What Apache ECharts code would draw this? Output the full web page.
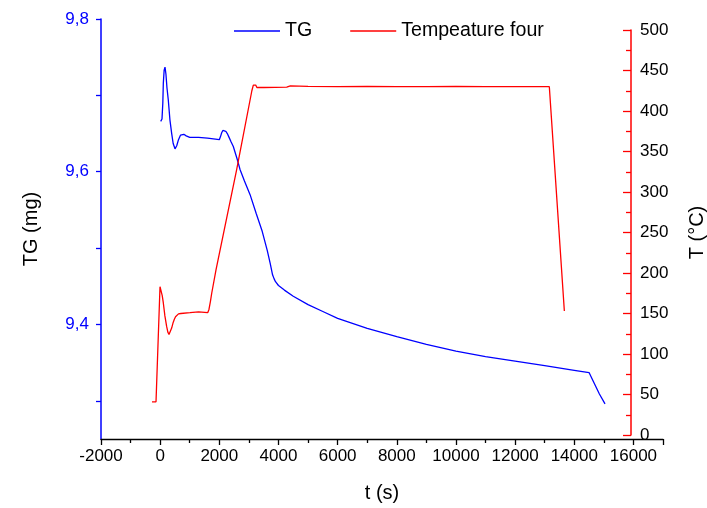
<!DOCTYPE html>
<html>
<head>
<meta charset="utf-8">
<script src="https://cdn.jsdelivr.net/npm/echarts@6/dist/echarts.min.js"></script>
<style>
html,body{margin:0;padding:0;background:#fff;}
#chart{width:707px;height:508px;}
</style>
</head>
<body>
<div id="chart"></div>
<script>
// ---- data ----
var seriesNames = ['TG', 'Tempeature four'];
var tgTime = [18, 62, 90, 107, 135, 164, 195, 230, 275, 330, 390, 440, 502, 560, 620, 690, 749, 800, 880, 1000, 1300, 1600, 2000, 2040, 2080, 2120, 2169, 2220, 2270, 2330, 2400, 2473, 2600, 2700, 2850, 3040, 3250, 3450, 3620, 3720, 3800, 3850, 3900, 4000, 4200, 4500, 5000, 5500, 6000, 7000, 8000, 9000, 10000, 11000, 12000, 13000, 14000, 14500, 14650, 14850, 15040];
var tgMass = [9.666, 9.669, 9.690, 9.716, 9.733, 9.737, 9.728, 9.710, 9.694, 9.668, 9.650, 9.637, 9.630, 9.634, 9.642, 9.648, 9.650, 9.649, 9.647, 9.645, 9.645, 9.644, 9.642, 9.646, 9.651, 9.654, 9.655, 9.653, 9.650, 9.645, 9.639, 9.633, 9.617, 9.603, 9.588, 9.570, 9.545, 9.522, 9.497, 9.480, 9.465, 9.460, 9.456, 9.451, 9.445, 9.437, 9.426, 9.417, 9.408, 9.395, 9.384, 9.374, 9.365, 9.358, 9.352, 9.346, 9.340, 9.337, 9.325, 9.309, 9.296];
var tempTime = [-276, -140, -5, 30, 70, 107, 160, 219, 260, 299, 340, 389, 440, 480, 520, 558, 620, 700, 1009, 1300, 1607, 1650, 1700, 1743, 1888, 2588, 3100, 3150, 3183, 3230, 3270, 3318, 3500, 4279, 4400, 5000, 6000, 7000, 8000, 9000, 10000, 11000, 12000, 13000, 13157, 13665];
var tempValue = [41, 41, 183, 181, 172, 163, 147, 134, 127, 124, 126, 132, 139, 143, 146, 148, 149.5, 150, 151, 152, 151, 155, 165, 175, 204, 328, 425, 432, 434, 432, 429, 428, 429, 429.5, 431, 430.5, 430, 430.5, 430, 430, 430.5, 430, 430, 430, 430, 153];
var xTicks = {min: -2000, max: 17000, interval: 2000};
var tgTickValues = [9.3, 9.4, 9.5, 9.6, 9.7, 9.8];
var tgLabelValues = [9.4, 9.6, 9.8];
var tempTicks = {min: 0, max: 500, interval: 50};

// ---- layout ----
var plotLeft = 101, plotRight = 663, plotTop = 19, plotBottom = 439;
var layer2Right = 631, layer2Top = 30, layer2Bottom = 435;
var W = 707, H = 508;
var xMax2 = xTicks.min + (xTicks.max - xTicks.min) * (layer2Right - plotLeft) / (plotRight - plotLeft);

function zip(a, b) { return a.map(function (v, i) { return [v, b[i]]; }); }

var fontFam = 'Liberation Sans, Arial, sans-serif';
var chart = echarts.init(document.getElementById('chart'));
chart.setOption({
  animation: false,
  backgroundColor: '#fff',
  textStyle: {fontFamily: fontFam},
  legend: {
    top: 16, left: 229, itemWidth: 46, itemHeight: 1.5, itemGap: 38, icon: 'rect',
    textStyle: {fontSize: 19.6, color: '#000', fontFamily: fontFam},
    data: seriesNames
  },
  grid: [
    {left: plotLeft, right: W - plotRight, top: plotTop, bottom: H - plotBottom, containLabel: false, outerBoundsMode: 'none'},
    {left: plotLeft, right: W - layer2Right, top: layer2Top, bottom: H - layer2Bottom, containLabel: false, outerBoundsMode: 'none'}
  ],
  xAxis: [
    {
      type: 'value', gridIndex: 0, min: xTicks.min, max: xTicks.max, interval: xTicks.interval,
      name: 't (s)', nameLocation: 'middle', nameGap: 44,
      nameTextStyle: {fontSize: 20, color: '#000', fontFamily: fontFam},
      axisLine: {onZero: false, lineStyle: {color: '#000', width: 1.3}},
      axisTick: {show: true, length: 6, lineStyle: {color: '#000', width: 1.3}},
      minorTick: {show: true, splitNumber: 2, length: 4, lineStyle: {color: '#000', width: 1.3}},
      axisLabel: {fontSize: 17, color: '#000', margin: 9, showMaxLabel: false, fontFamily: fontFam,
        formatter: function (v) { return String(v); }},
      splitLine: {show: false}
    },
    {
      type: 'value', gridIndex: 1, min: xTicks.min, max: xMax2, show: false, splitLine: {show: false}
    }
  ],
  yAxis: [
    {
      type: 'value', gridIndex: 0, position: 'left', min: 9.25, max: 9.8,
      name: 'TG (mg)', nameLocation: 'middle', nameGap: 60, nameRotate: 90,
      nameTextStyle: {fontSize: 20, color: '#000', fontFamily: fontFam},
      axisLine: {show: true, onZero: false, lineStyle: {color: '#0000ff', width: 1.5}},
      axisTick: {show: true, length: 5, customValues: tgTickValues, lineStyle: {color: '#0000ff', width: 1.3}},
      axisLabel: {
        fontSize: 17, color: '#0000ff', margin: 12, customValues: tgLabelValues, fontFamily: fontFam,
        formatter: function (v) { return v.toFixed(1).replace('.', ','); }
      },
      splitLine: {show: false}
    },
    {
      type: 'value', gridIndex: 1, position: 'right', min: tempTicks.min, max: tempTicks.max, interval: tempTicks.interval,
      name: 'T (°C)', nameLocation: 'middle', nameGap: 56, nameRotate: 90,
      nameTextStyle: {fontSize: 20, color: '#000', fontFamily: fontFam},
      axisLine: {show: true, onZero: false, lineStyle: {color: '#ff0000', width: 1.5}},
      axisTick: {show: true, inside: true, length: 8, lineStyle: {color: '#ff0000', width: 1.3}},
      minorTick: {show: true, splitNumber: 2, length: 5, lineStyle: {color: '#ff0000', width: 1.3}},
      axisLabel: {fontSize: 17, color: '#000', margin: 9, fontFamily: fontFam},
      splitLine: {show: false}
    }
  ],
  series: [
    {
      name: seriesNames[0], type: 'line', xAxisIndex: 0, yAxisIndex: 0,
      data: zip(tgTime, tgMass), showSymbol: false, symbol: 'none', smooth: false,
      lineStyle: {color: '#0000ff', width: 1.3}, itemStyle: {color: '#0000ff'}
    },
    {
      name: seriesNames[1], type: 'line', xAxisIndex: 1, yAxisIndex: 1,
      data: zip(tempTime, tempValue), showSymbol: false, symbol: 'none', smooth: false,
      lineStyle: {color: '#ff0000', width: 1.3}, itemStyle: {color: '#ff0000'}
    }
  ]
});
</script>
</body>
</html>
